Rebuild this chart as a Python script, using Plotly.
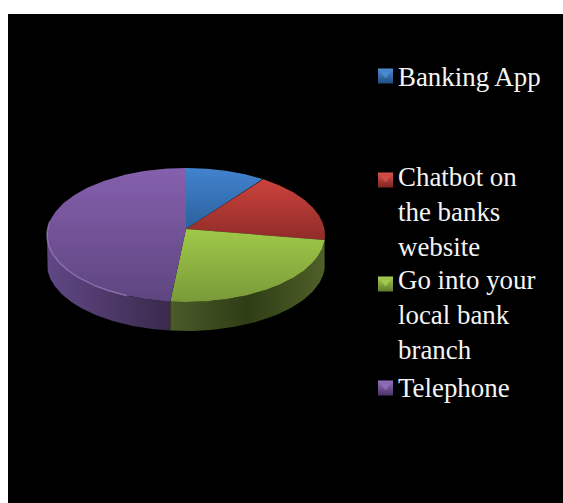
import numpy as np
import plotly.graph_objects as go

categories = ["Banking App", "Chatbot on<br>the banks<br>website", "Go into your<br>local bank<br>branch", "Telephone"]
values = [9.3, 16.9, 25.6, 48.2]
top_colors = [("#4283cf", "#2a619c"), ("#cc423c", "#8f2c29"), ("#9fc948", "#7a9a3a"), ("#8560ad", "#5e4580")]
side_colors = [("#1f4a78", "#1f4a78", "#1f4a78"), ("#4f6028", "#4f6028", "#4f6028"),
               ("#4a5a28", "#2f3d16", "#4f6028"), ("#5f4885", "#4d3868", "#3a2a4c")]
rim_color = "#ab90d2"
swatch_colors = [("#4f8fd6", "#1f4d80"), ("#d9504a", "#7c2522"), ("#a8d050", "#5f7a2c"), ("#9570bd", "#4a3468")]
swatch_y = [76, 180, 284, 388]
legend_y = [76, 211, 314, 387]

W, H = 563, 503
LEFT, TOP = 8, 14
CX, CY, RX, RY = 186, 235, 139, 67
APEX_Y = 229
DEPTH = 29
SWATCH_X = 385.5


def edge(t_deg, drop=0):
    t = np.radians(t_deg)
    return CX + RX * np.sin(t), CY - RY * np.cos(t) + drop


angles = np.concatenate([[0], np.cumsum(values) / np.sum(values) * 360])
fig = go.Figure()

# side walls (front half only)
for i in range(len(values)):
    a, b = max(angles[i], 90), min(angles[i + 1], 270)
    if b <= a:
        continue
    t = np.linspace(a, b, 90)
    xu, yu = edge(t)
    xl, yl = edge(t[::-1], DEPTH)
    c = side_colors[i]
    stops = [[0, c[0]], [0.5, c[1]], [1, c[2]]]
    fig.add_trace(go.Scatter(
        x=np.r_[xu, xl, xu[0]], y=np.r_[yu, yl, yu[0]], mode="lines", line=dict(width=0),
        fill="toself", showlegend=False, hoverinfo="skip",
        fillgradient=dict(type="horizontal", colorscale=stops),
    ))

# top faces
for i in range(len(values)):
    t = np.linspace(angles[i], angles[i + 1], 180)
    x, y = edge(t)
    fig.add_trace(go.Scatter(
        x=np.r_[CX, x, CX], y=np.r_[APEX_Y, y, APEX_Y], mode="lines", line=dict(width=0),
        fill="toself", showlegend=False, hovertext=categories[i].replace("<br>", " "), hoverinfo="text",
        fillgradient=dict(type="vertical", colorscale=[[0, top_colors[i][1]], [1, top_colors[i][0]]]),
    ))

# soft light bevel on the front left edge
x, y = edge(np.linspace(205, 282, 120))
fig.add_trace(go.Scatter(x=x, y=y, mode="lines", line=dict(width=1.5, color=rim_color),
                         opacity=0.6, showlegend=False, hoverinfo="skip"))

# legend swatches
fig.add_trace(go.Scatter(
    x=[SWATCH_X] * 4, y=swatch_y, mode="markers", showlegend=False, hoverinfo="skip",
    marker=dict(symbol="square", size=15, line=dict(width=0), color=[c[0] for c in swatch_colors],
                gradient=dict(type="vertical", color=[c[1] for c in swatch_colors])),
))
fig.add_trace(go.Scatter(
    x=[SWATCH_X] * 4, y=[v - 2 for v in swatch_y], mode="markers", showlegend=False, hoverinfo="skip",
    marker=dict(symbol="triangle-down", size=9, line=dict(width=0), color=[c[0] for c in swatch_colors], opacity=0.8),
))

# legend text, one legend per entry so entries keep their even spacing
layout_legends = {}
for i, name in enumerate(categories):
    key = "legend" if i == 0 else f"legend{i + 1}"
    fig.add_trace(go.Scatter(x=[None], y=[None], mode="markers", name=name, legend=key,
                             marker=dict(color="rgba(0,0,0,0)", size=1)))
    layout_legends[key] = dict(x=358 / W, xanchor="left", y=1 - legend_y[i] / H, yanchor="middle",
                               bgcolor="rgba(0,0,0,0)", borderwidth=0, itemclick=False, itemdoubleclick=False,
                               font=dict(family="Liberation Serif", size=26.9, color="#f4f4f4"))

fig.update_layout(
    width=W, height=H, margin=dict(l=0, r=0, t=0, b=0),
    paper_bgcolor="white", plot_bgcolor="black", showlegend=True,
    xaxis=dict(range=[LEFT, W], domain=[LEFT / W, 1], visible=False, fixedrange=True),
    yaxis=dict(range=[H, TOP], domain=[0, 1 - TOP / H], visible=False, fixedrange=True),
    **layout_legends,
)
fig.write_html("out.html", config={"displayModeBar": False},
               post_script="document.body.style.margin='0';")
